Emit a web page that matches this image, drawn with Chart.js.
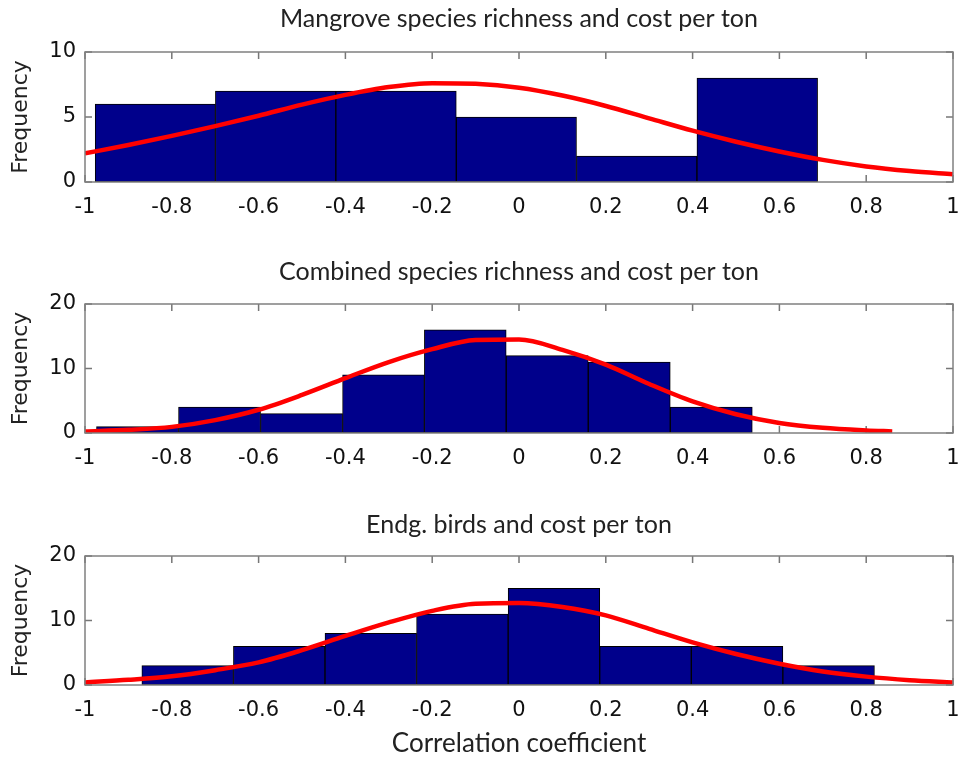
<!DOCTYPE html>
<html>
<head>
<meta charset="utf-8">
<script src="https://cdn.jsdelivr.net/npm/chart.js@4.4.1/dist/chart.umd.min.js"></script>
<style>
  body { margin: 0; background: #fff; }
  #wrap { position: relative; width: 964px; height: 761px; }
  canvas { position: absolute; left: 0; }
</style>
</head>
<body>
<div id="wrap">
  <canvas id="c1" width="964" height="226" style="top:0px"></canvas>
  <canvas id="c2" width="964" height="226" style="top:250px"></canvas>
  <canvas id="c3" width="964" height="261" style="top:500px"></canvas>
</div>
<script>
// histogram bin centres and counts
const mangroveBins = [-0.838, -0.561, -0.283, -0.006, 0.271, 0.549];
const mangroveCounts = [6, 7, 7, 5, 2, 8];
const combinedBins = [-0.879, -0.690, -0.501, -0.312, -0.124, 0.065, 0.254, 0.443];
const combinedCounts = [1, 4, 3, 9, 16, 12, 11, 4];
const birdsBins = [-0.7635, -0.5525, -0.3415, -0.1305, 0.0805, 0.2915, 0.5025, 0.7135];
const birdsCounts = [3, 6, 8, 11, 15, 6, 6, 3];

// fitted curves
const fitX = [-1, -0.9, -0.8, -0.7, -0.6, -0.5, -0.4, -0.3, -0.2, -0.1, 0, 0.1, 0.2, 0.3, 0.4, 0.5, 0.6, 0.7, 0.8, 0.9, 1];
const mangroveFit = [2.2, 2.85, 3.55, 4.3, 5.1, 5.95, 6.7, 7.3, 7.6, 7.55, 7.25, 6.65, 5.85, 4.9, 3.95, 3.1, 2.35, 1.7, 1.2, 0.85, 0.6];
const combinedFitX = [-1, -0.9, -0.8, -0.7, -0.6, -0.5, -0.4, -0.3, -0.2, -0.1, 0, 0.1, 0.2, 0.3, 0.4, 0.5, 0.6, 0.7, 0.8, 0.86];
const combinedFit = [0.25, 0.5, 0.95, 2.0, 3.6, 5.9, 8.5, 11.0, 13.0, 14.4, 14.5, 12.9, 10.6, 7.6, 4.9, 2.9, 1.55, 0.8, 0.4, 0.25];
const birdsFit = [0.4, 0.8, 1.35, 2.3, 3.5, 5.4, 7.6, 9.7, 11.5, 12.6, 12.7, 12.1, 10.8, 8.7, 6.6, 4.8, 3.3, 2.1, 1.3, 0.75, 0.4];

const titles = ['Mangrove species richness and cost per ton', 'Combined species richness and cost per ton', 'Endg. birds and cost per ton'];
const yMax = [10, 20, 20];
const yStep = [5, 10, 10];

const tickFont = { family: 'DejaVu Sans, sans-serif', size: 21 };
const textFont = 'Lato, Open Sans, sans-serif';

const matlabBox = {
  id: 'matlabBox',
  beforeDatasetsDraw(chart) {
    const { ctx, chartArea: a, scales: { x, y } } = chart;
    ctx.save();
    ctx.strokeStyle = '#777';
    ctx.lineWidth = 1.5;
    ctx.beginPath();
    x.ticks.forEach(t => {
      const px = x.getPixelForValue(t.value);
      ctx.moveTo(px, a.bottom); ctx.lineTo(px, a.bottom - 7);
      ctx.moveTo(px, a.top); ctx.lineTo(px, a.top + 7);
    });
    y.ticks.forEach(t => {
      const py = y.getPixelForValue(t.value);
      ctx.moveTo(a.left, py); ctx.lineTo(a.left + 7, py);
      ctx.moveTo(a.right, py); ctx.lineTo(a.right - 7, py);
    });
    ctx.stroke();
    ctx.restore();
  },
  afterDatasetsDraw(chart) {
    const { ctx, chartArea: a } = chart;
    ctx.save();
    ctx.strokeStyle = '#808080';
    ctx.lineWidth = 1.5;
    ctx.strokeRect(a.left, a.top, a.right - a.left, a.bottom - a.top);
    ctx.restore();
  }
};

function makeChart(id, i, bins, counts, fx, fy, titleH, titleY, xAxisH, xTitle) {
  const titleSize = 25;
  const lh = titleSize * 1.2;
  const padTop = titleY - lh / 2;
  return new Chart(document.getElementById(id), {
    type: 'bar',
    data: {
      datasets: [{
        type: 'line',
        data: fx.map((v, k) => ({ x: v, y: fy[k] })),
        borderColor: '#ff0000',
        borderWidth: 4.5,
        pointRadius: 0,
        cubicInterpolationMode: 'monotone',
        fill: false,
        order: 0
      }, {
        type: 'bar',
        data: bins.map((v, k) => ({ x: v, y: counts[k] })),
        backgroundColor: '#00008b',
        borderColor: '#000',
        borderWidth: 1,
        borderSkipped: false,
        barThickness: 'flex',   // width from spacing of the bin centres
        barPercentage: 1,
        categoryPercentage: 1,
        order: 1
      }]
    },
    options: {
      responsive: false,
      animation: false,
      layout: { padding: { left: 0, right: 11, top: 0, bottom: 0 } },
      plugins: {
        legend: { display: false },
        tooltip: { enabled: false },
        title: {
          display: true,
          fullSize: false,   // centre over the plot box, like matlab
          text: titles[i],
          color: '#222',
          font: { family: textFont, size: titleSize, weight: 'normal' },
          padding: { top: padTop, bottom: titleH - padTop - lh }
        }
      },
      scales: {
        x: {
          type: 'linear',
          min: -1,
          max: 1,
          offset: false,
          grid: { display: false, drawTicks: false },
          border: { display: false },
          ticks: {
            stepSize: 0.2,
            padding: 13,
            color: '#111',
            font: tickFont,
            maxRotation: 0,
            autoSkip: false,
            callback: v => String(Math.round(v * 10) / 10)
          },
          title: {
            display: !!xTitle,
            text: xTitle || '',
            color: '#222',
            font: { family: textFont, size: 26 },
            padding: { top: 0, bottom: 2 }
          },
          afterFit: s => {
            s.height = xAxisH;
            s.paddingLeft = 0;
            s.paddingRight = 0;
          }
        },
        y: {
          min: 0,
          max: yMax[i],
          grid: { display: false, drawTicks: false },
          border: { display: false },
          ticks: { stepSize: yStep[i], padding: 9, color: '#111', font: tickFont },
          title: {
            display: true,
            text: 'Frequency',
            color: '#222',
            font: { family: 'DejaVu Sans, sans-serif', size: 22 },
            padding: { top: 8, bottom: 0 }
          },
          afterFit: s => { s.width = 85; }
        }
      }
    },
    plugins: [matlabBox]
  });
}

makeChart('c1', 0, mangroveBins, mangroveCounts, fitX, mangroveFit, 52, 19, 44, null);
makeChart('c2', 1, combinedBins, combinedCounts, combinedFitX, combinedFit, 54, 22, 43, null);
makeChart('c3', 2, birdsBins, birdsCounts, fitX, birdsFit, 56, 25, 76, 'Correlation coefficient');
</script>
</body>
</html>
